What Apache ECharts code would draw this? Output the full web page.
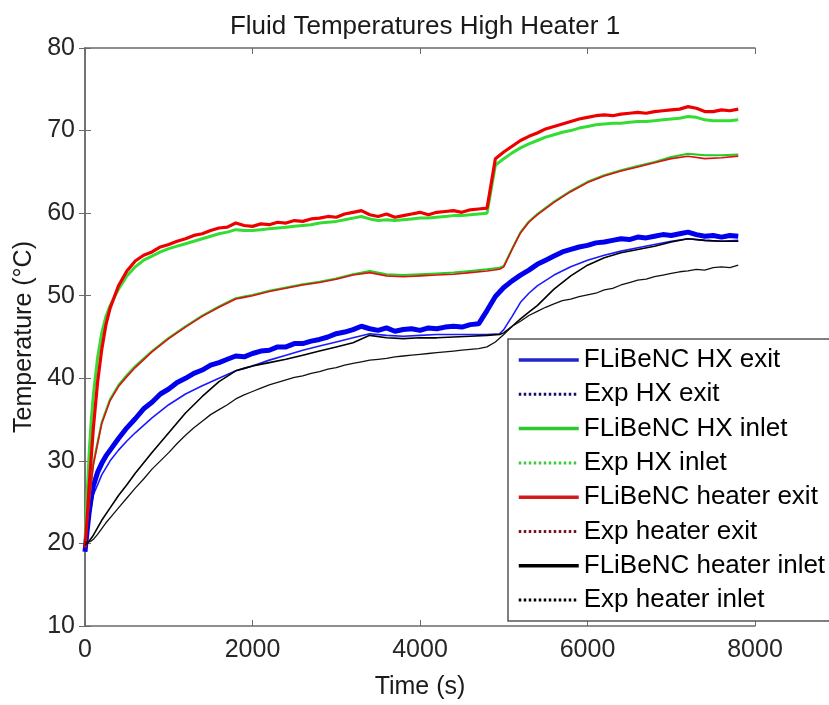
<!DOCTYPE html>
<html>
<head>
<meta charset="utf-8">
<script src="https://cdn.jsdelivr.net/npm/echarts@6/dist/echarts.min.js"></script>
<style>html,body{margin:0;padding:0;background:#fff}#c{width:829px;height:705px}</style>
</head>
<body>
<div id="c"></div>
<script>
var titleText = 'Fluid Temperatures High Heater 1';
var xName = 'Time (s)';
var yName = 'Temperature (°C)';
var seriesNames = ['FLiBeNC HX exit','Exp HX exit','FLiBeNC HX inlet','Exp HX inlet','FLiBeNC heater exit','Exp heater exit','FLiBeNC heater inlet','Exp heater inlet'];

var tModel = [0,25,50,100,200,300,400,500,600,800,1000,1200,1400,1600,1800,1900,2000,2200,2400,2600,2800,3000,3200,3400,3600,3800,4000,4200,4400,4600,4800,4950,5000,5100,5200,5300,5400,5600,5800,6000,6200,6400,6600,6800,7000,7200,7400,7600,7800];

var modelHxExit = [19.5,21.5,23.0,25.9,28.3,30.0,31.3,32.4,33.4,35.2,36.8,38.1,39.1,40.0,40.9,41.2,41.5,42.2,42.8,43.4,43.9,44.4,44.9,45.4,45.2,45.1,45.2,45.3,45.3,45.3,45.3,45.4,45.9,47.5,49.2,50.3,51.2,52.5,53.5,54.3,54.9,55.4,55.8,56.2,56.6,56.9,56.7,56.6,56.7];
var modelHxInlet = [20,22.8,25.3,29.8,34.7,37.5,39.2,40.4,41.5,43.3,44.9,46.3,47.6,48.7,49.7,49.9,50.1,50.6,51.0,51.4,51.7,52.1,52.6,53.0,52.6,52.5,52.6,52.7,52.8,53.0,53.2,53.4,53.6,55.7,57.7,59.0,59.9,61.4,62.7,63.8,64.6,65.2,65.7,66.2,66.8,67.2,67.0,67.0,67.1];
var modelHeaterExit = [20,22.5,25,29.5,34.5,37.3,39.0,40.2,41.3,43.2,44.8,46.2,47.5,48.6,49.6,49.8,50.0,50.5,50.9,51.3,51.6,52.0,52.5,52.8,52.4,52.3,52.4,52.5,52.6,52.8,53.0,53.2,53.5,55.6,57.6,58.9,59.8,61.3,62.6,63.7,64.5,65.1,65.6,66.1,66.6,66.9,66.6,66.7,66.9];
var modelHeaterInlet = [19.8,20.0,20.3,21.0,22.8,24.3,25.8,27.1,28.5,31.0,33.4,35.8,37.8,39.6,40.9,41.2,41.5,41.9,42.3,42.8,43.3,43.8,44.3,45.2,44.9,44.8,44.9,44.9,45.0,45.1,45.2,45.3,45.5,46.3,47.2,48.0,48.8,50.8,52.4,53.7,54.6,55.2,55.6,56.0,56.5,56.9,56.7,56.6,56.6];

var tExp = [0,25,50,75,100,150,200,250,300,400,500,600,700,800,900,1000,1100,1200,1300,1400,1500,1600,1700,1800,1900,2000,2100,2200,2300,2400,2500,2600,2700,2800,2900,3000,3100,3200,3300,3400,3500,3600,3700,3800,3900,4000,4100,4200,4300,4400,4500,4600,4700,4800,4900,5000,5100,5200,5300,5400,5500,5600,5700,5800,5900,6000,6100,6200,6300,6400,6500,6600,6700,6800,6900,7000,7100,7200,7300,7400,7500,7600,7700,7800];

var expHxExit = [19.0,21.5,23.8,25.6,27.0,28.6,29.7,30.6,31.3,32.7,34.0,35.1,36.3,37.1,38.1,38.7,39.5,40.0,40.6,41.0,41.6,41.9,42.3,42.7,42.6,43.0,43.3,43.4,43.8,43.8,44.2,44.2,44.5,44.7,45.0,45.4,45.6,45.9,46.3,46.0,45.8,46.1,45.7,45.9,46.0,45.8,46.1,46.0,46.2,46.3,46.2,46.5,46.6,48.2,49.9,51.0,51.8,52.5,53.1,53.8,54.3,54.8,55.3,55.6,55.9,56.1,56.4,56.5,56.7,56.9,56.8,57.1,57.0,57.2,57.4,57.3,57.5,57.7,57.4,57.2,57.3,57.1,57.3,57.2];
var expHxInlet = [20,26,31,35,38,42.5,45.5,47.5,48.8,50.8,52.4,53.5,54.3,54.8,55.3,55.7,56.0,56.3,56.6,56.9,57.2,57.5,57.7,58.0,57.9,57.9,58.0,58.1,58.2,58.3,58.4,58.5,58.6,58.8,58.9,59.0,59.2,59.4,59.6,59.3,59.1,59.2,59.1,59.2,59.3,59.4,59.4,59.5,59.6,59.7,59.7,59.8,59.9,60.0,65.8,66.6,67.3,67.9,68.4,68.8,69.2,69.5,69.8,70.0,70.3,70.5,70.7,70.8,70.9,70.9,71.0,71.1,71.1,71.2,71.3,71.4,71.5,71.7,71.6,71.3,71.2,71.2,71.2,71.3];
var expHeaterExit = [19.5,23,27,30.5,34,39.5,43.5,46.5,48.5,51.2,53.0,54.2,54.9,55.3,55.9,56.2,56.6,56.9,57.3,57.5,57.9,58.2,58.3,58.8,58.5,58.4,58.7,58.6,58.9,58.8,59.1,59.0,59.3,59.4,59.6,59.5,59.9,60.1,60.3,59.8,59.6,59.9,59.5,59.7,59.9,60.1,59.8,60.1,60.2,60.3,60.1,60.4,60.5,60.6,66.6,67.4,68.1,68.8,69.3,69.7,70.2,70.5,70.8,71.1,71.4,71.6,71.8,71.9,71.8,72.0,72.1,72.2,72.1,72.3,72.4,72.5,72.6,72.9,72.7,72.3,72.3,72.5,72.4,72.6];
var expHeaterInlet = [20.2,20.1,20.2,20.3,20.5,21.1,21.8,22.5,23.1,24.3,25.5,26.7,27.8,29.0,30.0,31.0,32.1,33.1,34.0,34.8,35.6,36.2,36.8,37.5,38.0,38.4,38.8,39.2,39.5,39.8,40.1,40.3,40.6,40.8,41.1,41.3,41.6,41.8,42.0,42.2,42.3,42.4,42.6,42.7,42.8,42.9,43.0,43.1,43.2,43.3,43.4,43.5,43.6,43.8,44.4,45.3,46.3,46.9,47.6,48.1,48.6,49.0,49.4,49.6,49.9,50.1,50.3,50.7,50.9,51.3,51.6,51.9,52.0,52.3,52.5,52.7,52.9,53.0,53.2,53.1,53.4,53.5,53.4,53.7];

var xTicks = {min: 0, max: 8000, interval: 2000};
var yTicks = {min: 10, max: 80, interval: 10};

function pairs(ts, vs) { return ts.map(function (t, i) { return [t, vs[i]]; }); }

var FONT = 'Liberation Sans, Arial, Helvetica, sans-serif';
var chart = echarts.init(document.getElementById('c'), null, {renderer: 'canvas'});

var seriesDefs = [
  {name: seriesNames[0], data: pairs(tModel, modelHxExit), color: '#1a1aff', width: 1.6, z: 2},
  {name: seriesNames[1], data: pairs(tExp, expHxExit), color: '#0000ee', width: 5, z: 3},
  {name: seriesNames[2], data: pairs(tModel, modelHxInlet), color: '#22cc22', width: 2, z: 4},
  {name: seriesNames[3], data: pairs(tExp, expHxInlet), color: '#33dd33', width: 3, z: 5},
  {name: seriesNames[4], data: pairs(tModel, modelHeaterExit), color: '#dd1111', width: 1.6, z: 6},
  {name: seriesNames[5], data: pairs(tExp, expHeaterExit), color: '#ee0000', width: 3.2, z: 7},
  {name: seriesNames[6], data: pairs(tModel, modelHeaterInlet), color: '#000000', width: 1.6, z: 8},
  {name: seriesNames[7], data: pairs(tExp, expHeaterInlet), color: '#111111', width: 1.3, z: 9}
];

var legendColors = ['#2323c8', '#10106a', '#2ec82e', '#3ec83e', '#d41a1a', '#7a1020', '#000000', '#000000'];

var series = seriesDefs.map(function (s) {
  return {
    name: s.name, type: 'line', data: s.data, symbol: 'none', smooth: false,
    z: s.z, animation: false,
    lineStyle: {color: s.color, width: s.width},
    itemStyle: {color: s.color},
    xAxisIndex: 0, yAxisIndex: 0
  };
});

var legendData = seriesNames.map(function (n, i) {
  var isExp = (i % 2 === 1);
  return {
    name: n,
    itemStyle: {color: 'rgba(0,0,0,0)', opacity: 0, borderWidth: 0},
    lineStyle: isExp ? {color: legendColors[i], width: 3, type: [2.5, 2.5], opacity: 1} : {color: legendColors[i], width: 3.5, type: 'solid', opacity: 1}
  };
});

var axisLineStyle = {show: true, lineStyle: {color: '#6a6a6a', width: 1.5}};
var axisTickStyle = {show: true, inside: true, length: 6, lineStyle: {color: '#6a6a6a', width: 1}};

var option = {
  backgroundColor: '#fff',
  animation: false,
  title: {
    text: titleText, left: 420, top: 9, textAlign: 'center',
    textStyle: {fontFamily: FONT, fontSize: 26, fontWeight: 'normal', color: '#1a1a1a'}
  },
  grid: {left: 85, right: 74, top: 48, bottom: 76, containLabel: false},
  legend: {
    orient: 'vertical', left: 508, top: 339,
    padding: [4, 8, 4, 9],
    itemWidth: 60, itemHeight: 14, itemGap: 0.3,
    backgroundColor: '#fff', borderColor: '#555', borderWidth: 1.5, borderRadius: 0,
    textStyle: {fontFamily: FONT, fontSize: 26, color: '#000', lineHeight: 34},
    data: legendData
  },
  xAxis: [
    {type: 'value', position: 'bottom', min: xTicks.min, max: xTicks.max, interval: xTicks.interval,
     name: xName, nameLocation: 'middle', nameGap: 49,
     nameTextStyle: {fontFamily: FONT, fontSize: 25, color: '#1a1a1a'},
     axisLine: axisLineStyle, axisTick: axisTickStyle, splitLine: {show: false},
     axisLabel: {fontFamily: FONT, fontSize: 25, color: '#262626', margin: 12,
       formatter: function (v) { return String(v); }}},
    {type: 'value', position: 'top', min: xTicks.min, max: xTicks.max, interval: xTicks.interval,
     axisLine: axisLineStyle, axisTick: axisTickStyle, splitLine: {show: false}, axisLabel: {show: false}}
  ],
  yAxis: [
    {type: 'value', position: 'left', min: yTicks.min, max: yTicks.max, interval: yTicks.interval,
     name: yName, nameLocation: 'middle', nameGap: 44, nameRotate: 90,
     nameTextStyle: {fontFamily: FONT, fontSize: 25, color: '#1a1a1a'},
     axisLine: axisLineStyle, axisTick: axisTickStyle, splitLine: {show: false},
     axisLabel: {fontFamily: FONT, fontSize: 25, color: '#262626', margin: 10,
       formatter: function (v) { return String(v); }}},
    {type: 'value', position: 'right', min: yTicks.min, max: yTicks.max, interval: yTicks.interval,
     axisLine: axisLineStyle, axisTick: axisTickStyle, splitLine: {show: false}, axisLabel: {show: false}}
  ],
  series: series
};
chart.setOption(option);
</script>
</body>
</html>
